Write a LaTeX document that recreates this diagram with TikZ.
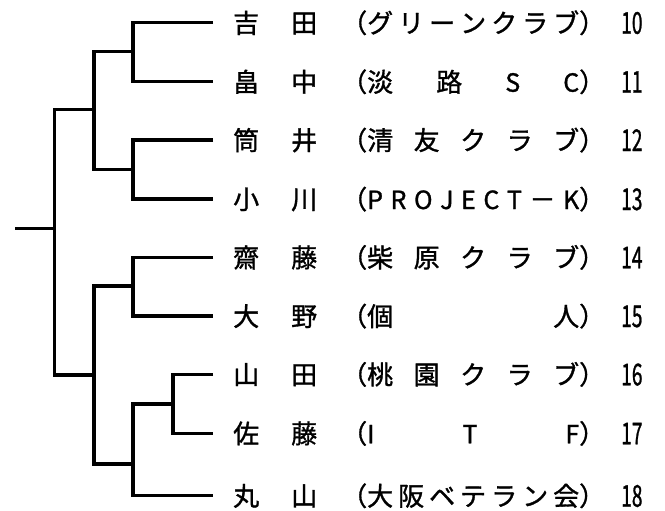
\documentclass[tikz,border=0pt]{standalone}
\usepackage{fontspec}
\setmainfont{Noto Sans CJK JP}[FakeBold=1.2]
\usepackage{graphicx}
\newcommand\lat[1]{{\fontsize{25}{25}\selectfont #1}}

\begin{document}
\begin{tikzpicture}[x=1pt, y=-1pt,
	wire/.style={line width=3.4pt, line join=miter},
	player/.style={anchor=west, inner sep=0pt, font=\fontsize{26}{26}\selectfont, text height=23pt, text depth=3pt},
	club/.style={player},
	seed/.style={player, font=\fontsize{30}{30}\selectfont, text height=25pt, text depth=3pt}]
	\useasboundingbox (0, 0) rectangle (665, 511);
	% Paths, nodes and wires:
	\coordinate (r1) at (213, 22.7);
	\coordinate (r2) at (213, 81.7);
	\coordinate (r3) at (213, 140);
	\coordinate (r4) at (213, 199);
	\coordinate (r5) at (213, 257.3);
	\coordinate (r6) at (213, 316);
	\coordinate (r7) at (213, 374.3);
	\coordinate (r8) at (213, 433.3);
	\coordinate (r9) at (213, 495.7);
	\coordinate (m1) at (133, 51.7);
	\coordinate (m2) at (133, 169.3);
	\coordinate (m3) at (94, 109.3);
	\coordinate (m4) at (133, 286);
	\coordinate (m5) at (173, 404);
	\coordinate (m6) at (133, 464);
	\coordinate (m7) at (94, 375);
	\coordinate (m8) at (54.5, 228.3);
	\coordinate (w) at (15, 228.3);
	\draw[wire] (r1) -| (m1) |- (r2);
	\draw[wire] (r3) -| (m2) |- (r4);
	\draw[wire] (m1) -| (m3) |- (m2);
	\draw[wire] (r5) -| (m4) |- (r6);
	\draw[wire] (r7) -| (m5) |- (r8);
	\draw[wire] (m5) -| (m6) |- (r9);
	\draw[wire] (m4) -| (m7) |- (m6);
	\draw[wire] (m3) -| (m8) |- (m7);
	\draw[wire] (w) -- (m8);
	\node[player] (n1) at (233, 22.7){\makebox[84pt][s]{吉\hfill 田}};
	\node[club] (c1) at (367, 22.7){\llap{（}\makebox[212pt][s]{グ\hfill リ\hfill ー\hfill ン\hfill ク\hfill ラ\hfill ブ}\rlap{）}};
	\node[seed] (s1) at (621, 22.7){\scalebox{0.64}[1]{10}};
	\node[player] (n2) at (233, 81.7){\makebox[84pt][s]{畠\hfill 中}};
	\node[club] (c2) at (367, 81.7){\llap{（}\makebox[212pt][s]{淡\hfill 路\hfill \lat{S}\hfill \lat{C}}\rlap{）}};
	\node[seed] (s2) at (621, 81.7){\scalebox{0.64}[1]{11}};
	\node[player] (n3) at (233, 140){\makebox[84pt][s]{筒\hfill 井}};
	\node[club] (c3) at (367, 140){\llap{（}\makebox[212pt][s]{清\hfill 友\hfill ク\hfill ラ\hfill ブ}\rlap{）}};
	\node[seed] (s3) at (621, 140){\scalebox{0.64}[1]{12}};
	\node[player] (n4) at (233, 199){\makebox[84pt][s]{小\hfill 川}};
	\node[club] (c4) at (367, 199){\llap{（}\makebox[212pt][s]{\lat{P}\hfill \lat{R}\hfill \lat{O}\hfill \lat{J}\hfill \lat{E}\hfill \lat{C}\hfill \lat{T}\hfill －\hfill \lat{K}}\rlap{）}};
	\node[seed] (s4) at (621, 199){\scalebox{0.64}[1]{13}};
	\node[player] (n5) at (233, 257.3){\makebox[84pt][s]{齋\hfill 藤}};
	\node[club] (c5) at (367, 257.3){\llap{（}\makebox[212pt][s]{柴\hfill 原\hfill ク\hfill ラ\hfill ブ}\rlap{）}};
	\node[seed] (s5) at (621, 257.3){\scalebox{0.64}[1]{14}};
	\node[player] (n6) at (233, 316){\makebox[84pt][s]{大\hfill 野}};
	\node[club] (c6) at (367, 316){\llap{（}\makebox[212pt][s]{個\hfill 人}\rlap{）}};
	\node[seed] (s6) at (621, 316){\scalebox{0.64}[1]{15}};
	\node[player] (n7) at (233, 374.3){\makebox[84pt][s]{山\hfill 田}};
	\node[club] (c7) at (367, 374.3){\llap{（}\makebox[212pt][s]{桃\hfill 園\hfill ク\hfill ラ\hfill ブ}\rlap{）}};
	\node[seed] (s7) at (621, 374.3){\scalebox{0.64}[1]{16}};
	\node[player] (n8) at (233, 433.3){\makebox[84pt][s]{佐\hfill 藤}};
	\node[club] (c8) at (367, 433.3){\llap{（}\makebox[212pt][s]{\lat{I}\hfill \lat{T}\hfill \lat{F}}\rlap{）}};
	\node[seed] (s8) at (621, 433.3){\scalebox{0.64}[1]{17}};
	\node[player] (n9) at (233, 495.7){\makebox[84pt][s]{丸\hfill 山}};
	\node[club] (c9) at (367, 495.7){\llap{（}\makebox[212pt][s]{大\hfill 阪\hfill ベ\hfill テ\hfill ラ\hfill ン\hfill 会}\rlap{）}};
	\node[seed] (s9) at (621, 495.7){\scalebox{0.64}[1]{18}};
\end{tikzpicture}
\end{document}
